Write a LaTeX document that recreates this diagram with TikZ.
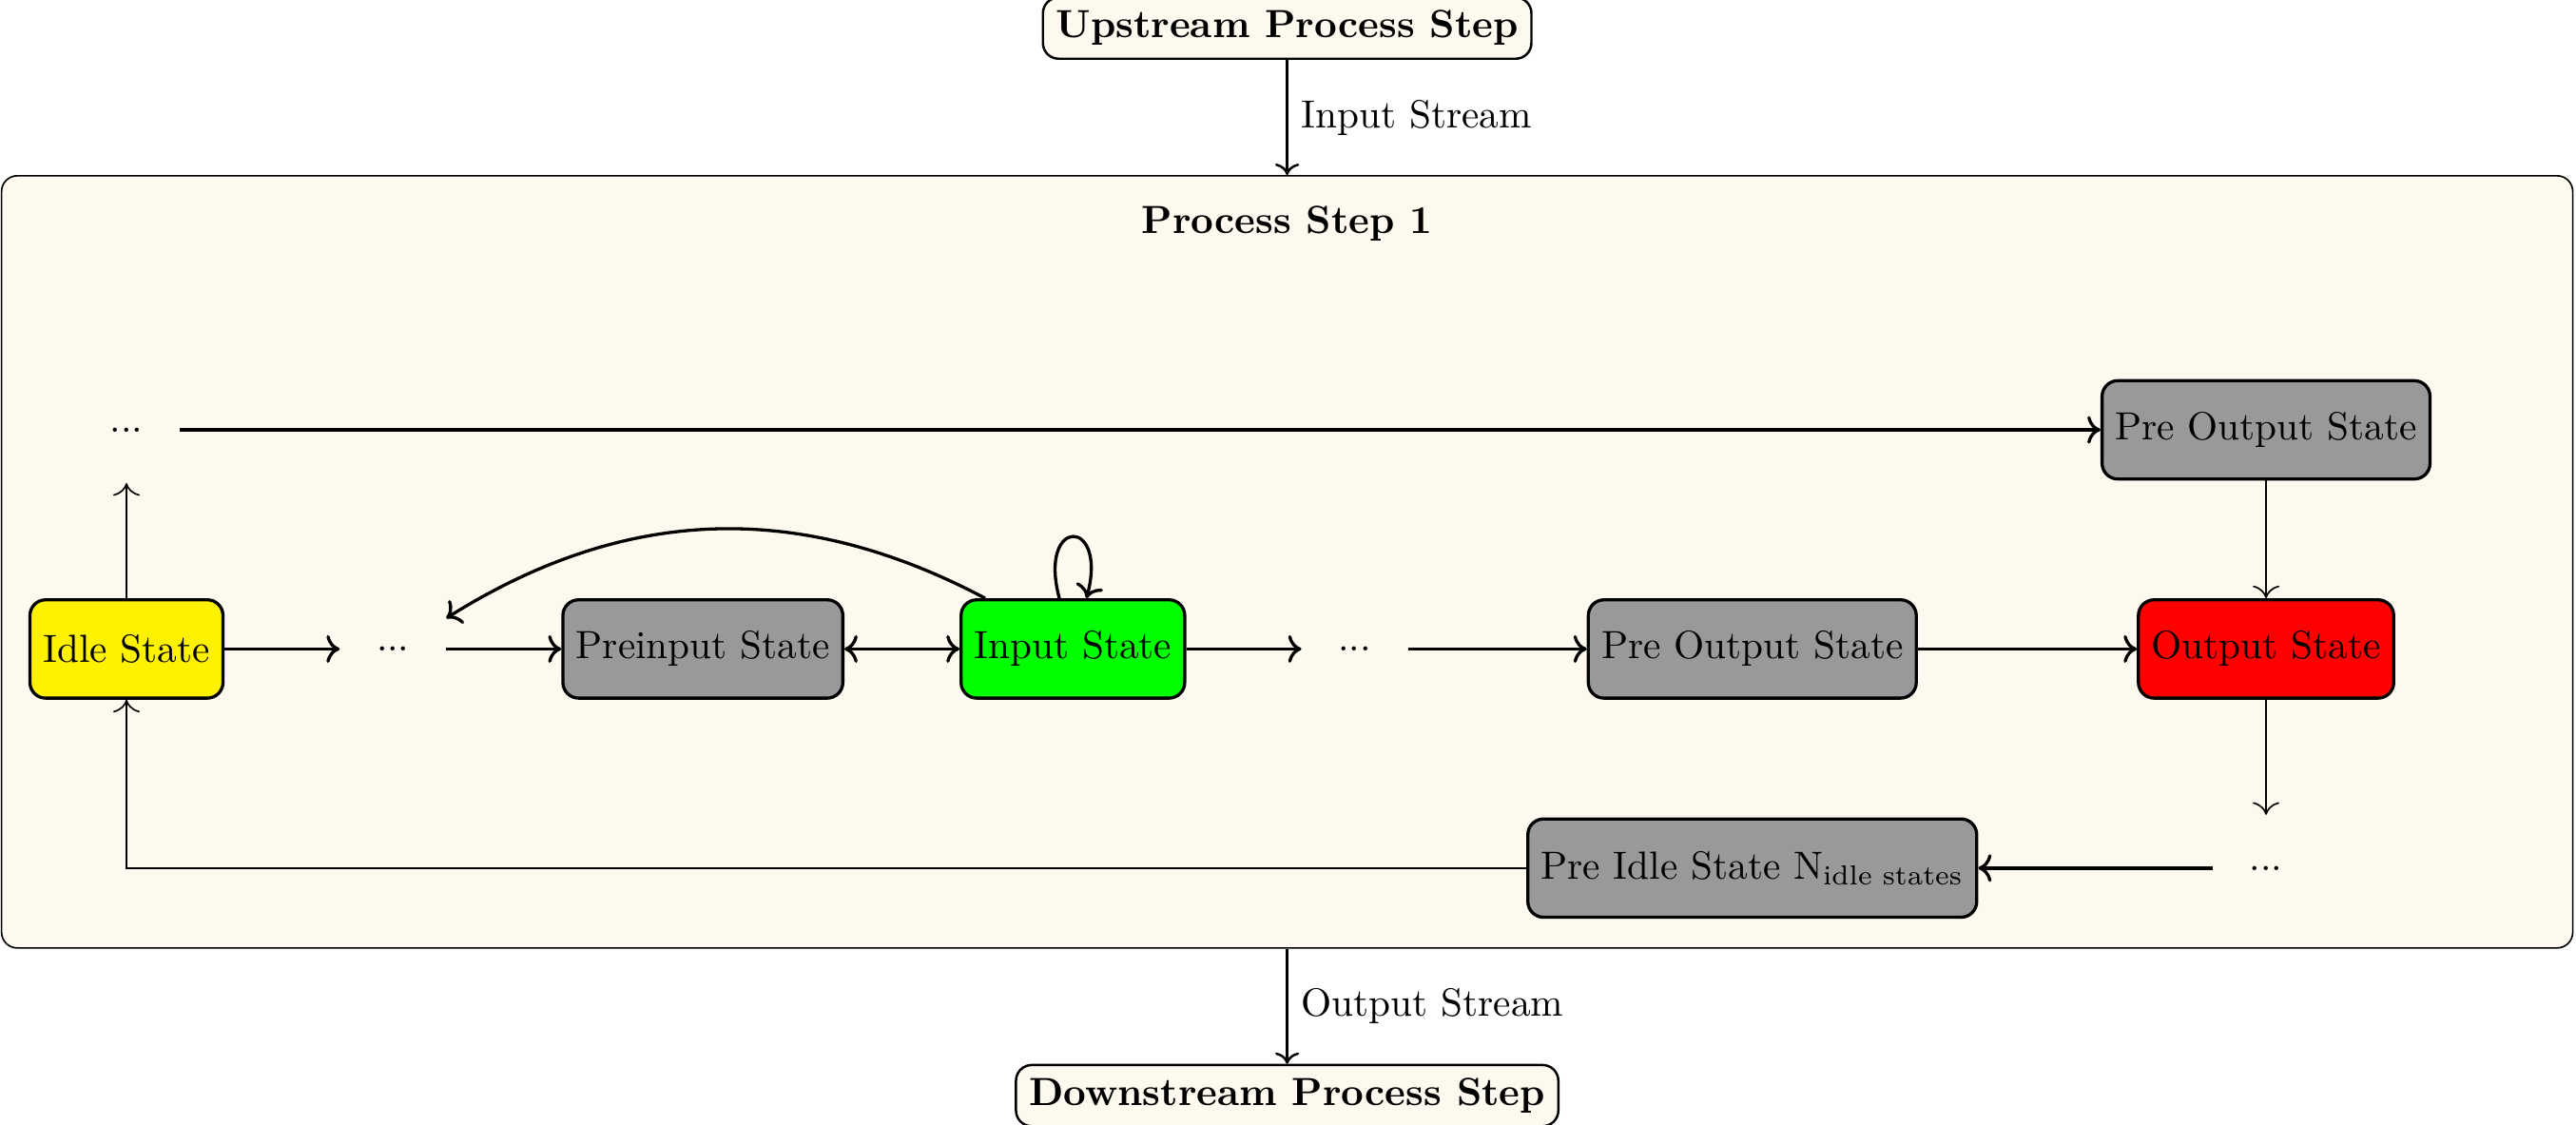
\documentclass[tikz,border=0pt]{standalone}
\usepackage{amsmath}
\usetikzlibrary{positioning,fit,backgrounds,arrows.meta}
\definecolor{cream}{RGB}{253,249,238}

\begin{document}
\begin{tikzpicture}[
    node distance=1.03cm,
    state/.style={draw, thick, rounded corners, minimum height=0.88cm},
    dotsnode/.style={minimum width=0.94cm, minimum height=0.94cm},
    stepbox/.style={draw, semithick, rounded corners, fill=cream, font=\bfseries},
    flow/.style={->, thick},
    back/.style={-{To[scale=1.3]}}
  ]
  \useasboundingbox (-1.132,-4.252) rectangle (21.924,5.808);

  % Main row
  \node[state, fill=yellow] (idle) {Idle State};
  \node[dotsnode, right=of idle] (dotsa) {...};
  \node[state, fill=gray!80, right=of dotsa] (preinput) {Preinput State};
  \node[state, fill=green, right=of preinput] (input) {Input State};
  \node[dotsnode, right=of input] (dotsb) {...};
  \node[state, fill=gray!80, right=1.6cm of dotsb] (preoutput) {Pre Output State};
  \node[state, fill=red, right=1.96cm of preoutput] (output) {Output State};
  % Top row
  \node[dotsnode, above=of idle] (dotstop) {...};
  \node[state, fill=gray!80] (preoutputtop) at (dotstop -| output) {Pre Output State};
  % Bottom row
  \node[dotsnode, below=of output] (dotsbottom) {...};
  \node[state, fill=gray!80] (preidle) at (dotsbottom -| preoutput) {Pre Idle State N$_{\text{idle states}}$};

  % Process step
  \begin{pgfonlayer}{background}
    \node[draw, rounded corners, fill=cream, inner sep=0pt, fit={(-1.118,-2.676) (21.895,4.235)}] (step) {};
  \end{pgfonlayer}
  \node[font=\bfseries, below=0.15cm of step.north] (steptitle) {Process Step 1};
  \node[stepbox, above=of step] (upstream) {Upstream Process Step};
  \node[stepbox, below=of step] (downstream) {Downstream Process Step};

  \draw [->, semithick] (upstream) -- node[right] {Input Stream} (step);
  \draw [->, semithick] (step) -- node[right] {Output Stream} (downstream);

  % Transitions
  \draw [flow] (idle) -- (dotsa);
  \draw [flow] (dotsa) -- (preinput);
  \draw [<->, thick] (preinput) -- (input);
  \draw [flow] (input) to [loop above] (input);
  \draw [flow] (input) to [bend right] (dotsa);
  \draw [flow] (input) -- (dotsb);
  \draw [flow] (dotsb) -- (preoutput);
  \draw [flow] (preoutput) -- (output);
  \draw [back] (idle) -- (dotstop);
  \draw [flow] (dotstop) -- (preoutputtop);
  \draw [back] (preoutputtop) -- (output);
  \draw [back] (output) -- (dotsbottom);
  \draw [flow] (dotsbottom) -- (preidle);
  \draw [back] (preidle) -| (idle);
\end{tikzpicture}
\end{document}
